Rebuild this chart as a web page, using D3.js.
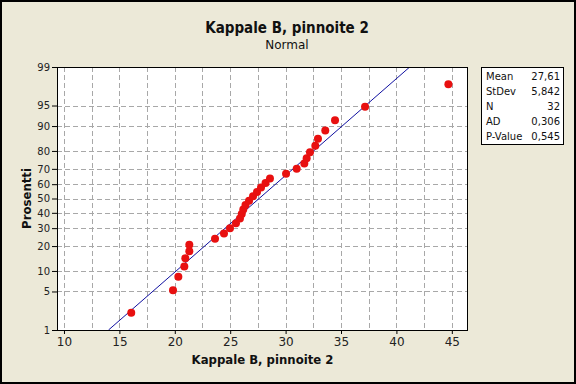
<!DOCTYPE html>
<html>
<head>
<meta charset="utf-8">
<script src="https://cdn.jsdelivr.net/npm/d3@7"></script>
<style>
  body { margin: 0; background: #ece9d8; }
  svg { display: block; font-family: Tahoma, "DejaVu Sans", sans-serif; }
  .bold { font-family: "DejaVu Sans Condensed", "Liberation Sans", Arial, sans-serif; font-weight: bold; }
</style>
</head>
<body>
<svg id="chart" width="576" height="384"></svg>
<script>
var values = [16.07, 19.84, 20.32, 20.86, 20.95, 21.31, 21.31, 23.63, 24.44, 24.98,
              25.52, 25.88, 26.04, 26.18, 26.38, 26.70, 27.06, 27.42, 27.78, 28.19,
              28.59, 30.04, 31.00, 31.69, 31.90, 32.20, 32.68, 32.92, 33.58, 34.46,
              37.17, 44.69];
var xTicks = [10, 15, 20, 25, 30, 35, 40, 45];
var xGrid = [10, 12.5, 15, 17.5, 20, 22.5, 25, 27.5, 30, 32.5, 35, 37.5, 40, 42.5, 45];
var yTicks = [1, 5, 10, 20, 30, 40, 50, 60, 70, 80, 90, 95, 99];
var statLabels = ["Mean", "StDev", "N", "AD", "P-Value"];
var statValues = ["27,61", "5,842", "32", "0,306", "0,545"];
var fitMean = 27.61, fitSd = 5.842;

var svg = d3.select("#chart");
var W = 576, H = 384;
var plot = { left: 57, top: 67, right: 468, bottom: 330 };

// inverse normal cdf (Acklam)
function qnorm(p) {
  var a = [-39.69683028665376, 220.9460984245205, -275.9285104469687, 138.3577518672690, -30.66479806614716, 2.506628277459239];
  var b = [-54.47609879822406, 161.5858368580409, -155.6989798598866, 66.80131188771972, -13.28068155288572];
  var c = [-0.007784894002430293, -0.3223964580411365, -2.400758277161838, -2.549732539343734, 4.374664141464968, 2.938163982698783];
  var d = [0.007784695709041462, 0.3224671290700398, 2.445134137142996, 3.754408661907416];
  var q, r;
  if (p < 0.02425) {
    q = Math.sqrt(-2 * Math.log(p));
    return (((((c[0]*q+c[1])*q+c[2])*q+c[3])*q+c[4])*q+c[5]) / ((((d[0]*q+d[1])*q+d[2])*q+d[3])*q+1);
  } else if (p > 1 - 0.02425) {
    q = Math.sqrt(-2 * Math.log(1 - p));
    return -(((((c[0]*q+c[1])*q+c[2])*q+c[3])*q+c[4])*q+c[5]) / ((((d[0]*q+d[1])*q+d[2])*q+d[3])*q+1);
  }
  q = p - 0.5; r = q * q;
  return (((((a[0]*r+a[1])*r+a[2])*r+a[3])*r+a[4])*r+a[5])*q / (((((b[0]*r+b[1])*r+b[2])*r+b[3])*r+b[4])*r+1);
}

var x = d3.scaleLinear().domain([9.37, 46.46]).range([plot.left, plot.right]);
var z = d3.scaleLinear().domain([qnorm(0.01), qnorm(0.99)]).range([plot.bottom, plot.top]);
function y(pct) { return z(qnorm(pct / 100)); }

// outer border
svg.append("rect").attr("x", 1).attr("y", 1).attr("width", W - 2).attr("height", H - 2)
  .attr("fill", "#ece9d8").attr("stroke", "#000").attr("stroke-width", 2);

// plot area
svg.append("rect").attr("x", plot.left).attr("y", plot.top)
  .attr("width", plot.right - plot.left).attr("height", plot.bottom - plot.top)
  .attr("fill", "#fff");

var grid = svg.append("g").attr("stroke", "#a8a8a8").attr("stroke-dasharray", "5,3").attr("stroke-width", 1);
grid.selectAll(".vg").data(xGrid).enter().append("line")
  .attr("x1", function(d) { return Math.round(x(d)) + 0.5; })
  .attr("x2", function(d) { return Math.round(x(d)) + 0.5; })
  .attr("y1", plot.top).attr("y2", plot.bottom);
grid.selectAll(".hg").data(yTicks.slice(1, -1)).enter().append("line")
  .attr("y1", function(d) { return Math.round(y(d)) + 0.5; })
  .attr("y2", function(d) { return Math.round(y(d)) + 0.5; })
  .attr("x1", plot.left).attr("x2", plot.right);

// fitted line, clipped to plot
svg.append("clipPath").attr("id", "clip").append("rect")
  .attr("x", plot.left).attr("y", plot.top)
  .attr("width", plot.right - plot.left).attr("height", plot.bottom - plot.top);
var zLo = qnorm(0.01), zHi = qnorm(0.99);
svg.append("line").attr("clip-path", "url(#clip)")
  .attr("x1", x(fitMean + zLo * fitSd)).attr("y1", z(zLo))
  .attr("x2", x(fitMean + zHi * fitSd)).attr("y2", z(zHi))
  .attr("stroke", "#1010a0").attr("stroke-width", 1);

// points: median-rank plotting positions
var n = values.length;
svg.selectAll(".pt").data(values).enter().append("circle")
  .attr("cx", function(d) { return x(d); })
  .attr("cy", function(d, i) { return y(100 * (i + 1 - 0.3) / (n + 0.4)); })
  .attr("r", 4).attr("fill", "#e81010");

// frame
svg.append("rect").attr("x", plot.left + 0.5).attr("y", plot.top + 0.5)
  .attr("width", plot.right - plot.left - 1).attr("height", plot.bottom - plot.top)
  .attr("fill", "none").attr("stroke", "#000");

// x axis
var xa = svg.append("g").attr("transform", "translate(0," + plot.bottom + ")")
  .call(d3.axisBottom(x).tickValues(xTicks).tickSize(4).tickPadding(3));
xa.select(".domain").remove();
xa.selectAll("text").attr("font-size", 12).attr("fill", "#222").attr("font-family", "Tahoma, 'DejaVu Sans', sans-serif");

// y axis
var ya = svg.append("g").attr("transform", "translate(" + plot.left + ",0)")
  .call(d3.axisLeft(z).tickValues(yTicks.map(function(d) { return qnorm(d / 100); }))
    .tickFormat(function(d, i) { return yTicks[i]; }).tickSize(5).tickPadding(2));
ya.select(".domain").remove();
ya.selectAll("text").attr("font-size", 10).attr("fill", "#222").attr("font-family", "Tahoma, 'DejaVu Sans', sans-serif");

// titles
svg.append("text").attr("class", "bold").attr("x", 287).attr("y", 33).attr("text-anchor", "middle")
  .attr("font-size", 15).attr("fill", "#111").text("Kappale B, pinnoite 2");
svg.append("text").attr("x", 287).attr("y", 49).attr("text-anchor", "middle")
  .attr("font-size", 12).attr("fill", "#111").text("Normal");
svg.append("text").attr("class", "bold").attr("x", (plot.left + plot.right) / 2).attr("y", 364).attr("text-anchor", "middle")
  .attr("font-size", 13).attr("fill", "#111").text("Kappale B, pinnoite 2");
svg.append("text").attr("class", "bold").attr("transform", "translate(31," + y(50) + ") rotate(-90)").attr("text-anchor", "middle")
  .attr("font-size", 13).attr("fill", "#111").text("Prosentti");

// stats box
var box = svg.append("g");
box.append("rect").attr("x", 481.5).attr("y", 67.5).attr("width", 82).attr("height", 77)
  .attr("fill", "#fff").attr("stroke", "#000");
box.selectAll(".sl").data(statLabels).enter().append("text")
  .attr("x", 486).attr("y", function(d, i) { return 80 + i * 15; })
  .attr("font-size", 10).attr("fill", "#111").text(function(d) { return d; });
box.selectAll(".sv").data(statValues).enter().append("text")
  .attr("x", 560).attr("y", function(d, i) { return 80 + i * 15; }).attr("text-anchor", "end")
  .attr("font-size", 10).attr("fill", "#111").text(function(d) { return d; });
</script>
</body>
</html>
